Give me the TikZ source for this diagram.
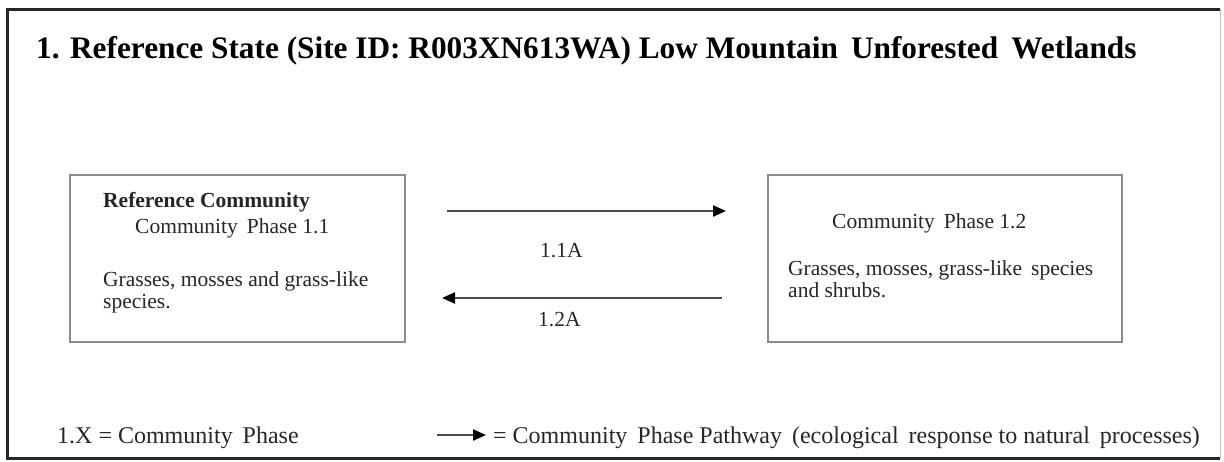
\documentclass[tikz,border=0pt]{standalone}
\usepackage{fontspec}
\setmainfont{Liberation Serif}
\usetikzlibrary{arrows.meta}
\begin{document}
\begin{tikzpicture}[x=1pt,y=-1pt,
  phasebox/.style={draw=black!45,line width=1.2pt},
  txt/.style={anchor=base west,inner sep=0pt,font=\fontsize{21.5}{24}\selectfont,text=black!85},
  legtxt/.style={txt,font=\fontsize{24}{27}\selectfont},
  pathway/.style={draw=black!70,line width=2.2pt,-{Triangle[length=13pt,width=11pt,fill=black,color=black]}},
  frame/.style={draw=black!85,line width=3pt}]
\useasboundingbox (0,0) rectangle (1224,461);
\fill[white] (0,0) rectangle (1224,461);
% outer frame
\draw[frame] (1220,9) -- (7,9) -- (7,458) -- (1220,458);
\draw[black!25,line width=1pt] (1220,9) -- (1220,458);
% title
\node[anchor=base west,inner sep=0pt,font=\fontsize{31.3}{34}\selectfont\bfseries] (title) at (36,58)
  {1. Reference State (Site ID: R003XN613WA) Low Mountain\, Unforested\, Wetlands};
% boxes
\node[phasebox,minimum width=335pt,minimum height=167pt,inner sep=0pt] (p11) at (237.5,258.5) {};
\node[phasebox,minimum width=354pt,minimum height=167pt,inner sep=0pt] (p12) at (945,258.5) {};
% left box text
\node[txt,font=\fontsize{21.5}{24}\selectfont\bfseries] (rc) at (103,207) {Reference Community};
\node[txt] (cp11) at (135,233) {Community\, Phase 1.1};
\node[txt] (g11a) at (103,286) {Grasses, mosses and grass-like};
\node[txt] (g11b) at (103,308) {species.};
% right box text
\node[txt] (cp12) at (832,228) {Community\, Phase 1.2};
\node[txt] (g12a) at (788,275) {Grasses, mosses, grass-like\, species};
\node[txt] (g12b) at (788,297) {and shrubs.};
% arrows
\coordinate (a1s) at (447,211);
\coordinate (a1e) at (726,211);
\coordinate (a2s) at (722,298);
\coordinate (a2e) at (442,298);
\draw[pathway] (a1s) -- (a1e);
\draw[pathway] (a2s) -- (a2e);
\node[txt] (l1) at (540,257) {1.1A};
\node[txt] (l2) at (538,326) {1.2A};
% legend
\node[legtxt] (leg1) at (57,443) {1.X = Community\, Phase};
\coordinate (la1) at (437,435);
\coordinate (la2) at (486,435);
\draw[pathway] (la1) -- (la2);
\node[legtxt] (leg2) at (493,443) {= Community\, Phase Pathway\, (ecological\, response to natural\, processes)};
\end{tikzpicture}
\end{document}
